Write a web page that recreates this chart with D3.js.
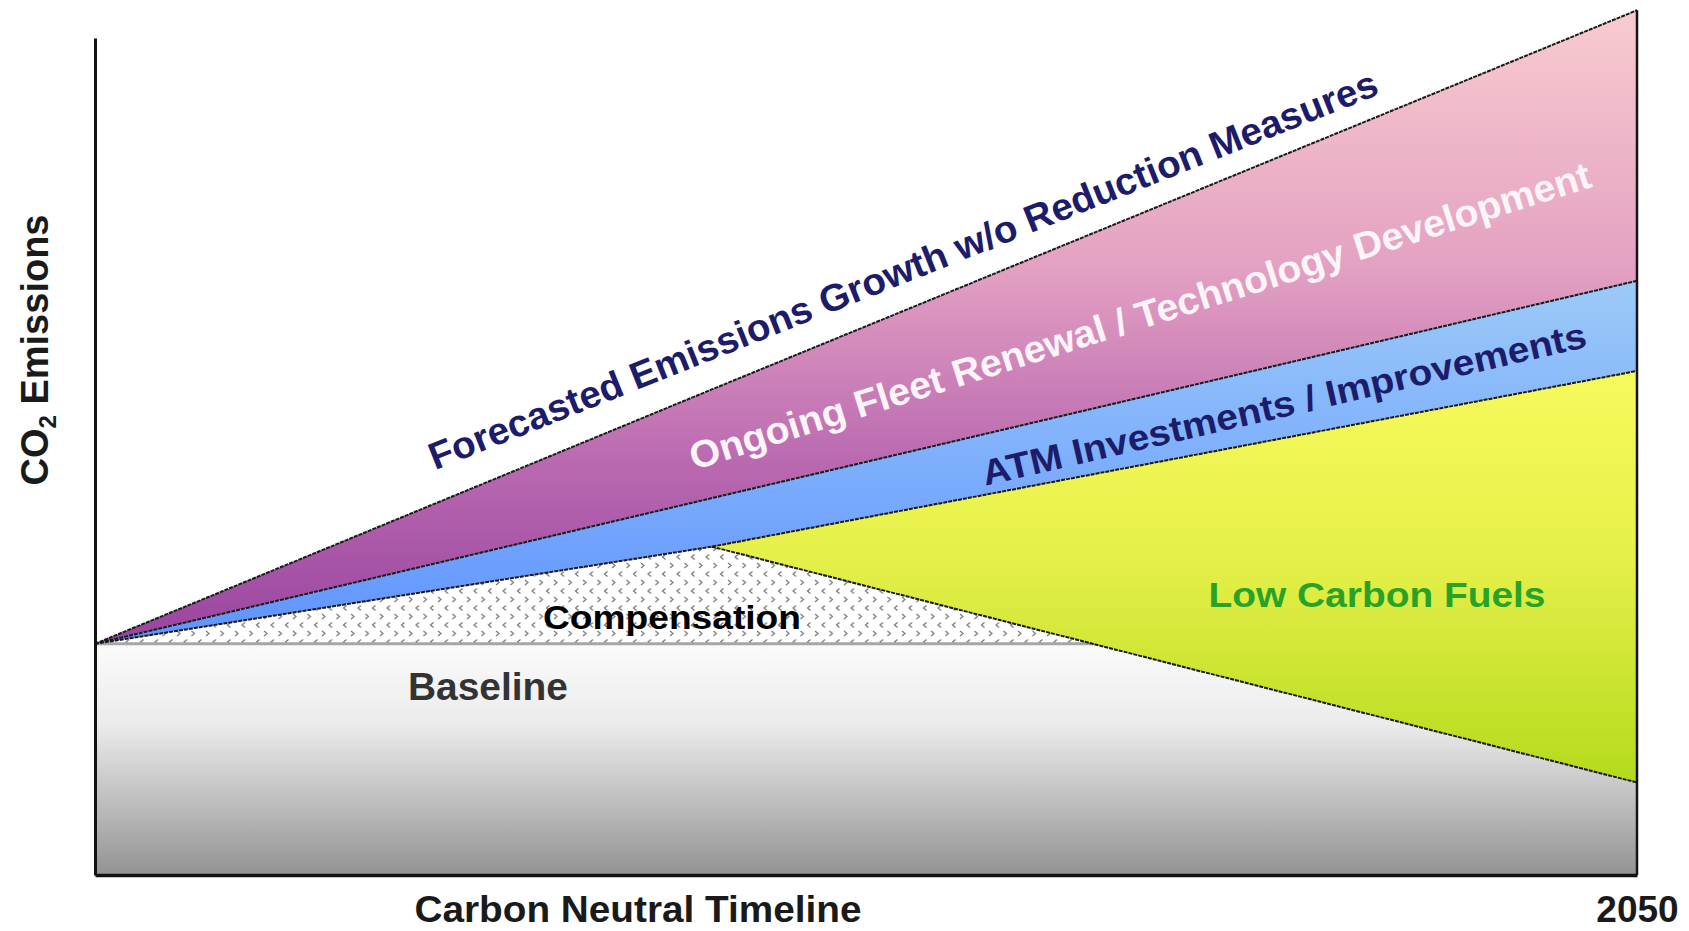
<!DOCTYPE html>
<html>
<head>
<meta charset="utf-8">
<script src="https://cdn.jsdelivr.net/npm/d3@7"></script>
<style>
  html, body { margin: 0; padding: 0; background: #fff; }
  svg { display: block; }
  text { font-family: "Liberation Sans", Arial, Helvetica, sans-serif; font-weight: bold; }
</style>
</head>
<body>
<svg id="chart" width="1689" height="931"></svg>
<script>
// ---------------- data ----------------
const years            = [2020, 2032, 2050];
const forecastGrowth   = [100, 210, 374];   // upper edge: emissions without measures
const fleetRenewal     = [100, 163, 257];   // lower edge of fleet renewal / technology wedge
const atmImprovements  = [100, 142, 218];   // lower edge of ATM wedge
const lowCarbonFuels   = [null, 142, 40];   // lower edge of low carbon fuels wedge
const baseline         = [100, 100, 100];
const xTickLabels      = [2050];
const yAxisMax         = 362;

// ---------------- setup ----------------
const svg = d3.select("#chart");
const x = d3.scaleLinear().domain([2020, 2050]).range([95, 1637]);
const y = d3.scaleLinear().domain([0, yAxisMax]).range([875, 38]);

const defs = svg.append("defs");
function vGrad(id, y1, y2, stops) {
  const g = defs.append("linearGradient").attr("id", id)
    .attr("gradientUnits", "userSpaceOnUse")
    .attr("x1", 0).attr("x2", 0).attr("y1", y1).attr("y2", y2);
  stops.forEach(s => g.append("stop").attr("offset", s[0]).attr("stop-color", s[1]));
}
vGrad("gPurple", y(374), y(100), [[0, "#f9cbcf"], [0.4, "#e4a2c2"], [0.72, "#b968b0"], [1, "#9944a0"]]);
vGrad("gBlue", y(257), y(100), [[0, "#9ccaf8"], [1, "#5f93ff"]]);
vGrad("gYellow", y(218), y(40), [[0, "#f7fa5c"], [0.45, "#e6f04a"], [1, "#b4da1c"]]);
vGrad("gGray", y(100), y(0), [[0, "#fbfbfb"], [0.35, "#ebebeb"], [1, "#939393"]]);

// compensation pattern of small chevrons
const pat = defs.append("pattern").attr("id", "pComp")
  .attr("patternUnits", "userSpaceOnUse").attr("width", 14.5).attr("height", 17);
pat.append("rect").attr("width", 14.5).attr("height", 17).attr("fill", "#fff");
pat.append("path").attr("d", "M3,2 L6,4.5 L3,7").attr("fill", "none").attr("stroke", "#707070").attr("stroke-width", 1.1);
pat.append("path").attr("d", "M13,10.5 L10,13 L13,15.5").attr("fill", "none").attr("stroke", "#707070").attr("stroke-width", 1.1);

const idx = d3.range(years.length);

// compensation area (top follows the lowest wedge edge)
const compTop = idx.map(i => lowCarbonFuels[i] == null ? atmImprovements[i] : lowCarbonFuels[i]);
svg.append("path")
  .attr("d", d3.area().x(i => x(years[i])).y0(i => y(baseline[i])).y1(i => y(Math.max(compTop[i], baseline[i])))(idx))
  .attr("fill", "url(#pComp)");

// baseline area
svg.append("path")
  .attr("d", d3.area().x(i => x(years[i])).y0(y(0)).y1(i => y(baseline[i]))(idx))
  .attr("fill", "url(#gGray)");
svg.append("path")
  .attr("d", d3.line().x(i => x(years[i])).y(i => y(baseline[i]))(idx))
  .attr("stroke", "#a6a6a6").attr("stroke-width", 3).attr("fill", "none");

// fleet renewal wedge
svg.append("path")
  .attr("d", d3.area().x(i => x(years[i])).y0(i => y(fleetRenewal[i])).y1(i => y(forecastGrowth[i]))(idx))
  .attr("fill", "url(#gPurple)");
// ATM wedge
svg.append("path")
  .attr("d", d3.area().x(i => x(years[i])).y0(i => y(atmImprovements[i])).y1(i => y(fleetRenewal[i]))(idx))
  .attr("fill", "url(#gBlue)");
// low carbon fuels wedge
const fIdx = idx.filter(i => lowCarbonFuels[i] != null);
svg.append("path")
  .attr("d", d3.area().x(i => x(years[i])).y0(i => y(lowCarbonFuels[i])).y1(i => y(atmImprovements[i]))(fIdx))
  .attr("fill", "url(#gYellow)");

// edges
const edge = (arr, ids) => svg.append("path")
  .attr("d", d3.line().x(i => x(years[i])).y(i => y(arr[i]))(ids))
  .attr("fill", "none").attr("stroke", "#1a1a1a").attr("stroke-width", 2)
  .attr("stroke-dasharray", "4,1");
edge(forecastGrowth, idx);
edge(fleetRenewal, idx);
edge(atmImprovements, idx);
edge(lowCarbonFuels, fIdx);

// right border
svg.append("line")
  .attr("x1", x(2050)).attr("x2", x(2050))
  .attr("y1", y(forecastGrowth[2])).attr("y2", y(0))
  .attr("stroke", "#151515").attr("stroke-width", 2.5);

// axes
const xAxis = svg.append("g").attr("transform", `translate(0,${y(0)})`)
  .call(d3.axisBottom(x).tickValues(xTickLabels).tickFormat(d3.format("d")).tickSize(0).tickSizeOuter(0).tickPadding(21));
xAxis.select(".domain").attr("stroke", "#111").attr("stroke-width", 3.5);
xAxis.selectAll("text").attr("font-size", 37).attr("font-family", "Liberation Sans, Arial, sans-serif")
  .attr("font-weight", "bold").attr("fill", "#1a1a1a");

const yAxis = svg.append("g").attr("transform", `translate(${x(2020)},0)`)
  .call(d3.axisLeft(y).tickValues([]).tickSizeOuter(0));
yAxis.select(".domain").attr("stroke", "#111").attr("stroke-width", 3);

// axis titles
svg.append("text").attr("x", 638).attr("y", 922).attr("text-anchor", "middle")
  .attr("font-size", 37).attr("fill", "#1a1a1a")
  .attr("textLength", 447).attr("lengthAdjust", "spacingAndGlyphs")
  .text("Carbon Neutral Timeline");

const yl = svg.append("text").attr("transform", "translate(48,350) rotate(-90)")
  .attr("text-anchor", "middle").attr("font-size", 38).attr("fill", "#1a1a1a");
yl.append("tspan").text("CO");
yl.append("tspan").attr("font-size", 24).attr("dy", 8).text("2");
yl.append("tspan").attr("dy", -8).text(" Emissions");

// wedge labels
function diagLabel(txt, cx, cy, angle, size, len, color) {
  svg.append("text")
    .attr("transform", `translate(${cx},${cy}) rotate(${angle})`)
    .attr("text-anchor", "middle").attr("dominant-baseline", "central")
    .attr("font-size", size).attr("fill", color)
    .attr("textLength", len).attr("lengthAdjust", "spacingAndGlyphs")
    .text(txt);
}
diagLabel("Forecasted Emissions Growth w/o Reduction Measures", 903, 270, -21.7, 38, 1018, "#1c1c6a");
diagLabel("Ongoing Fleet Renewal / Technology Development", 1140, 316, -17.5, 38, 943, "#fcf4f9");
diagLabel("ATM Investments / Improvements", 1284, 404, -13, 36, 619, "#1c1c6a");

svg.append("text").attr("x", 1377).attr("y", 607).attr("text-anchor", "middle")
  .attr("font-size", 35).attr("fill", "#27a32a")
  .attr("textLength", 337).attr("lengthAdjust", "spacingAndGlyphs")
  .text("Low Carbon Fuels");

svg.append("text").attr("x", 672).attr("y", 629).attr("text-anchor", "middle")
  .attr("font-size", 34).attr("fill", "#000")
  .attr("textLength", 258).attr("lengthAdjust", "spacingAndGlyphs")
  .text("Compensation");

svg.append("text").attr("x", 488).attr("y", 700).attr("text-anchor", "middle")
  .attr("font-size", 38).attr("fill", "#333")
  .attr("textLength", 160).attr("lengthAdjust", "spacingAndGlyphs")
  .text("Baseline");
</script>
</body>
</html>
